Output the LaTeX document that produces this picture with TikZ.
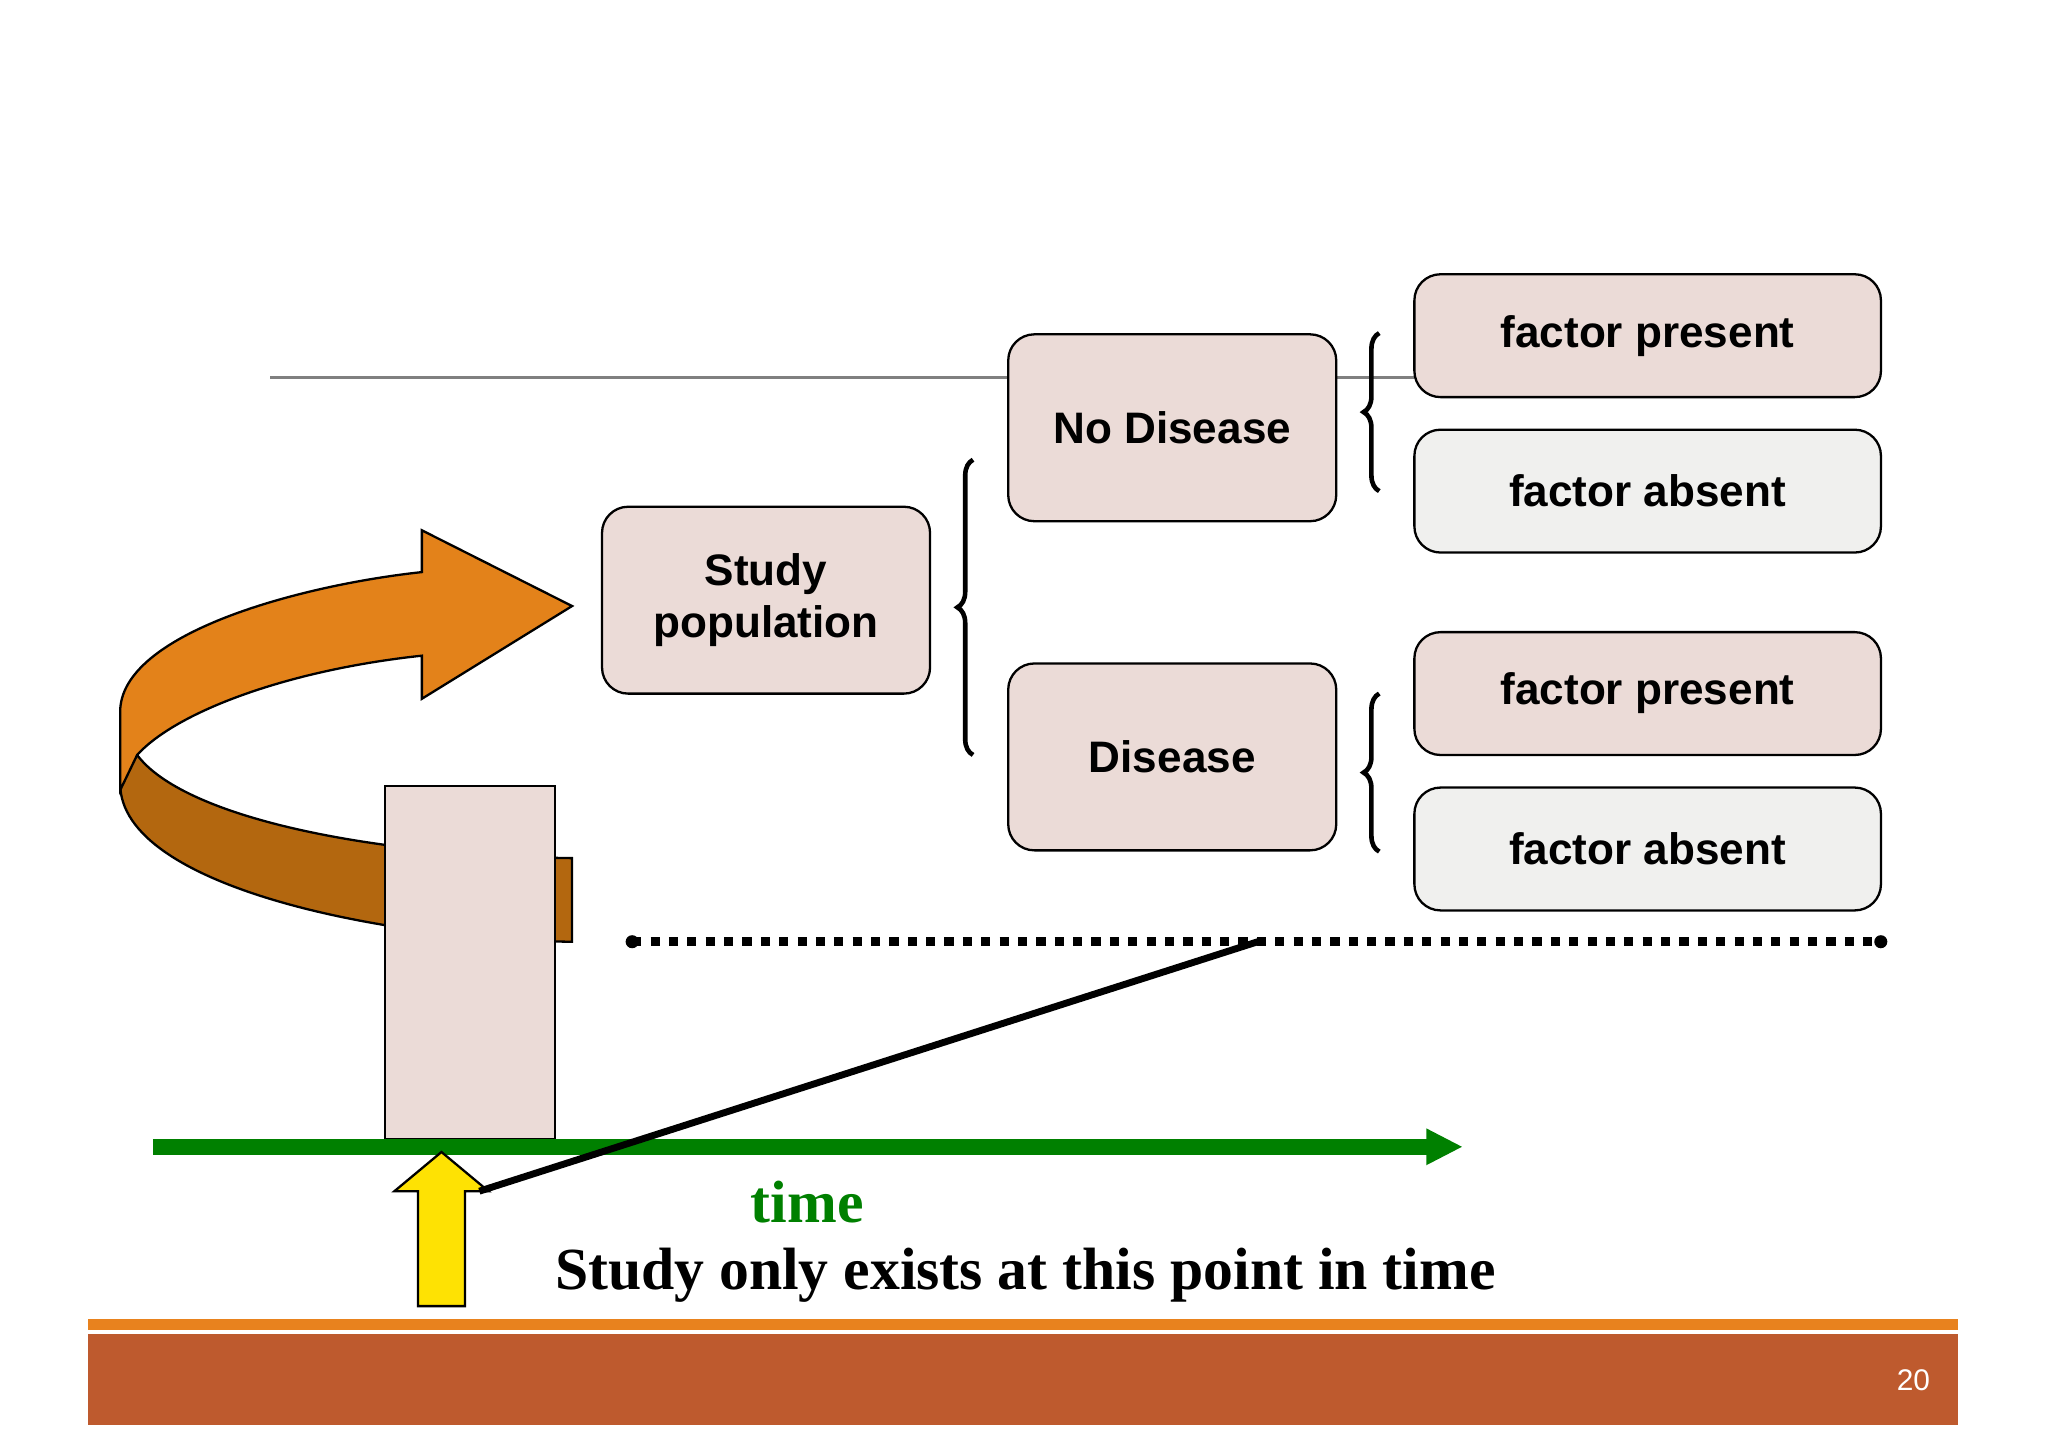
\documentclass[tikz,border=0pt]{standalone}
\usepackage{fontspec}
\setmainfont{Liberation Serif}
\newfontfamily\boxfont{Liberation Sans}
\usetikzlibrary{decorations.pathreplacing,arrows.meta}
\definecolor{pinkb}{HTML}{EBDBD7}
\definecolor{greyb}{HTML}{F0F0EE}
\definecolor{orl}{HTML}{E3821A}
\definecolor{ord}{HTML}{B3670F}
\definecolor{bar}{HTML}{BE5A2E}
\definecolor{barl}{HTML}{E8821E}
\definecolor{tgreen}{HTML}{008000}
\begin{document}
\begin{tikzpicture}[x=0.01cm,y=-0.01cm,
  bx/.style={draw=black,line width=0.5pt,rounded corners=0.2cm,fill=pinkb,font=\boxfont\bfseries\fontsize{9.6}{11.5}\selectfont,align=center,inner sep=0pt},
  br/.style={decorate,decoration={brace,amplitude=0.12cm},line width=1pt}]
\useasboundingbox (0,0) rectangle (1568,1108);
\fill[white] (0,0) rectangle (1568,1108);
\draw[gray,line width=0.5pt] (207,289) -- (1083,289);
\node[bx,minimum width=2.51cm,minimum height=1.43cm] (sp) at (586.5,459.5) {Study\\population};
\node[bx,minimum width=2.51cm,minimum height=1.43cm] (nd) at (897.5,327.5) {No Disease};
\node[bx,minimum width=2.51cm,minimum height=1.43cm] (d) at (897.5,579.5) {Disease};
\node[bx,minimum width=3.57cm,minimum height=0.94cm] (f1) at (1261.5,257) {factor present};
\node[bx,fill=greyb,minimum width=3.57cm,minimum height=0.94cm] (f2) at (1261.5,376) {factor absent};
\node[bx,minimum width=3.57cm,minimum height=0.94cm] (f3) at (1261.5,531) {factor present};
\node[bx,fill=greyb,minimum width=3.57cm,minimum height=0.94cm] (f4) at (1261.5,650) {factor absent};
\draw[br] (745,578) -- (745,352);
\draw[br] (1056,376) -- (1056,255);
\draw[br] (1056,652) -- (1056,531);
% orange arrow
\fill[ord,draw=black,line width=0.5pt] (92,600) .. controls (92,680) and (300,720) .. (438,721) -- (438,657) .. controls (280,655) and (140,625) .. (105,578) -- cycle;
\fill[orl,draw=black,line width=0.5pt] (92,605) -- (92,545) .. controls (92,485) and (230,448) .. (323,438) -- (323,406) -- (438,464) -- (323,535) -- (323,502) .. controls (220,513) and (135,545) .. (105,578) -- cycle;
% pink rect
\node[draw=black,line width=0.5pt,fill=pinkb,minimum width=1.3cm,minimum height=2.7cm,inner sep=0pt] (col) at (360,737) {};
% dotted line
\coordinate (dl) at (484,721); \coordinate (dr) at (1440,721); \coordinate (dm) at (963,721);
\draw[line width=2pt,dotted] (dl) -- (dr);
\fill (dl) circle (0.05cm); \fill (dr) circle (0.05cm);
% green arrow
\coordinate (ga) at (117,878); \coordinate (gb) at (1120,878);
\draw[tgreen,line width=3.5pt,-{Triangle[length=0.28cm,width=0.26cm]}] (ga) -- (gb);
% yellow arrow
\fill[yellow!85!orange,draw=black,line width=0.5pt] (338,882) -- (374,912) -- (356,912) -- (356,1000) -- (320,1000) -- (320,912) -- (302,912) -- cycle;
\coordinate (ya) at (367,912);
\draw[line width=1.5pt] (ya) -- (dm);
\node[font=\bfseries\fontsize{13}{15}\selectfont,text=tgreen] (tm) at (618,920) {time};
\node[font=\bfseries\fontsize{13}{15}\selectfont] (st) at (785,976) {Study only exists at this point in time};
% bottom bar
\fill[barl] (67,1010) rectangle (1499,1018);
\fill[bar] (67,1021) rectangle (1499,1091);
\node[text=white,font=\boxfont\fontsize{6.5}{8}\selectfont] (pg) at (1465,1057) {20};
\end{tikzpicture}
\end{document}
